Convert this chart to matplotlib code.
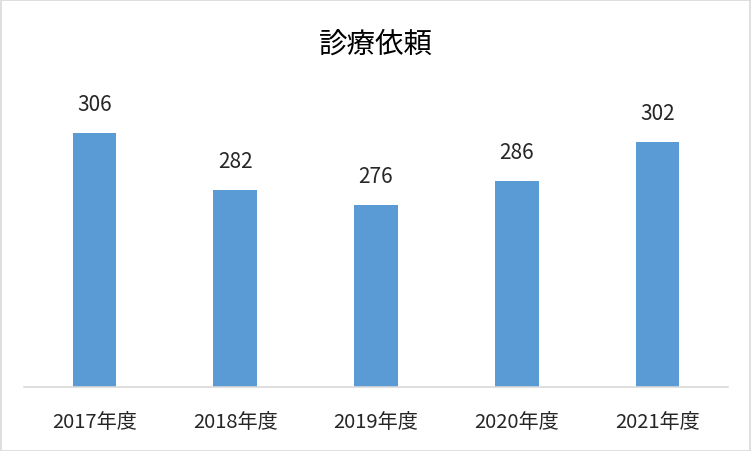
import matplotlib
matplotlib.use("Agg")
import matplotlib.pyplot as plt
from matplotlib.patches import Rectangle

plt.rcParams["font.family"] = ["Noto Sans CJK JP", "DejaVu Sans"]

# Données
years = ["2017年度", "2018年度", "2019年度", "2020年度", "2021年度"]
counts = [306, 282, 276, 286, 302]
title = "診療依頼"

fig = plt.figure(figsize=(7.52, 4.52), dpi=100)
ax = fig.add_axes([24 / 752, (452 - 388) / 452, 704 / 752, 288 / 452])

bars = ax.bar(range(len(years)), counts, width=0.31, color="#5B9BD5")

for bar, value in zip(bars, counts):
    ax.annotate(
        str(value),
        (bar.get_x() + bar.get_width() / 2, bar.get_height()),
        xytext=(0, 29),
        textcoords="offset pixels",
        ha="center",
        va="center",
        fontsize=15,
        color="#262626",
    )

ax.set_xlim(-0.5, len(years) - 0.5)
ax.set_ylim(200, 320)
ax.set_xticks(range(len(years)))
ax.set_xticklabels(years, fontsize=14.5, color="#262626")
ax.tick_params(axis="x", length=0, pad=17)
ax.set_yticks([])

for name in ["top", "left", "right"]:
    ax.spines[name].set_visible(False)
ax.spines["bottom"].set_color("#D9D9D9")
ax.spines["bottom"].set_linewidth(1.2)

fig.text(376 / 752, 1 - 45 / 452, title, ha="center", va="center",
         fontsize=20.5, color="#000000")

# cadre gris autour du graphique
fig.patches.append(Rectangle((0.001, 0.001), 0.997, 0.997, transform=fig.transFigure,
                             fill=False, edgecolor="#D9D9D9", linewidth=1.2))

fig.savefig("out.png", dpi=100)
